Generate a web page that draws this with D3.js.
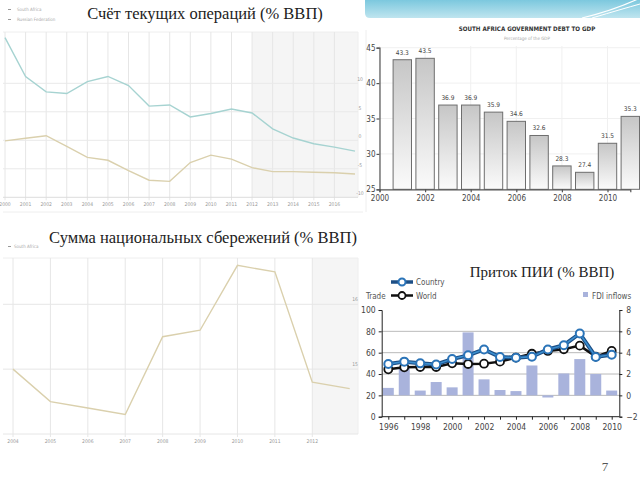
<!DOCTYPE html>
<html>
<head>
<meta charset="utf-8">
<script src="https://cdn.jsdelivr.net/npm/d3@7"></script>
<style>
  html, body { margin: 0; padding: 0; background: #fff; }
  svg { display: block; }
  .serif { font-family: "Liberation Serif", "DejaVu Serif", serif; }
  .narrow { font-family: "DejaVu Sans Condensed", "DejaVu Sans", sans-serif; font-stretch: condensed; }
</style>
</head>
<body>
<div id="slide"></div>
<script>
// ---- data ----
// current account balance (% GDP)
var caYears = [2000, 2001, 2002, 2003, 2004, 2005, 2006, 2007, 2008, 2009, 2010, 2011, 2012, 2013, 2014, 2015, 2016, 2017];
var caLabels = [2000, 2001, 2002, 2003, 2004, 2005, 2006, 2007, 2008, 2009, 2010, 2011, 2012, 2013, 2014, 2015, 2016];
var caRussia = [18.0, 11.2, 8.5, 8.2, 10.3, 11.2, 9.6, 6.0, 6.2, 4.1, 4.7, 5.5, 4.8, 2.0, 0.4, -0.6, -1.2, -1.9];
var caSouthAfrica = [-0.1, 0.35, 0.8, -1.05, -3.0, -3.5, -5.3, -7.0, -7.2, -3.9, -2.6, -3.3, -4.8, -5.5, -5.5, -5.6, -5.7, -5.9];
var caTicks = [-10, -5, 0, 5, 10];

// government debt to GDP
var debtYears = [2001, 2002, 2003, 2004, 2005, 2006, 2007, 2008, 2009, 2010, 2011];
var debtValues = [43.3, 43.5, 36.9, 36.9, 35.9, 34.6, 32.6, 28.3, 27.4, 31.5, 35.3];
var debtYTicks = [25, 30, 35, 40, 45];
var debtXTicks = [2000, 2002, 2004, 2006, 2008, 2010];

// gross national savings (% GDP)
var savYears = [2004, 2005, 2006, 2007, 2008, 2009, 2010, 2011, 2012, 2013];
var savLabels = [2004, 2005, 2006, 2007, 2008, 2009, 2010, 2011, 2012];
var savValues = [15.0, 14.5, 14.4, 14.3, 15.5, 15.6, 16.6, 16.5, 14.8, 14.7];
var savTicks = [15, 16];

// FDI inflows and trade
var fdiYears = [1996, 1997, 1998, 1999, 2000, 2001, 2002, 2003, 2004, 2005, 2006, 2007, 2008, 2009, 2010];
var fdiInflows = [0.7, 2.6, 0.45, 1.25, 0.75, 5.9, 1.5, 0.5, 0.4, 2.8, -0.2, 2.05, 3.4, 2.0, 0.45];
var tradeCountry = [49.4, 51.6, 50, 49, 54, 57.5, 63, 56, 55.3, 56.3, 63, 67, 78, 56, 58];
var tradeWorld = [44.4, 46.3, 46.6, 46.6, 50, 49.4, 49.7, 51.6, 55.4, 59, 61.6, 63.2, 66.6, 56.3, 61.6];
var tradeTicks = [0, 20, 40, 60, 80, 100];
var fdiTicks = [-2, 0, 2, 4, 6, 8];
var fdiXTicks = [1996, 1998, 2000, 2002, 2004, 2006, 2008, 2010];

var svg = d3.select("#slide").append("svg")
    .attr("width", 640)
    .attr("height", 480);

var defs = svg.append("defs");
var bannerGrad = defs.append("linearGradient").attr("id", "banner")
    .attr("x1", 0).attr("y1", 0).attr("x2", 0).attr("y2", 1);
bannerGrad.append("stop").attr("offset", "0%").attr("stop-color", "#7cc8de");
bannerGrad.append("stop").attr("offset", "100%").attr("stop-color", "#bfe5ef");
var barGrad = defs.append("linearGradient").attr("id", "bargrad")
    .attr("x1", 0).attr("y1", 0).attr("x2", 0).attr("y2", 1);
barGrad.append("stop").attr("offset", "0%").attr("stop-color", "#c6c6c6");
barGrad.append("stop").attr("offset", "100%").attr("stop-color", "#fbfbfb");

// decorative banner, top right
svg.append("path")
    .attr("d", "M365,0 H640 V18 H370 Q365,18 365,13 Z")
    .attr("fill", "url(#banner)");
svg.append("path").attr("d", "M582,18 Q615,10 640,-2").attr("fill", "none")
    .attr("stroke", "#fff").attr("stroke-width", 1.2);
svg.append("path").attr("d", "M592,18 Q622,9 640,4").attr("fill", "none")
    .attr("stroke", "#fff").attr("stroke-width", 1);

// ================= panel 1: current account =================
var p1 = svg.append("g");
var x1 = d3.scaleLinear().domain([2000, 2017]).range([5, 355]);
var y1 = d3.scaleLinear().domain([-10, 10]).range([197.3, 83.3]);
var top1 = 32, right1 = 358;

p1.append("rect")
    .attr("x", x1(2012)).attr("y", top1)
    .attr("width", right1 - x1(2012)).attr("height", y1(-10) - top1)
    .attr("fill", "#f5f5f5");
p1.append("line").attr("x1", 3).attr("x2", right1).attr("y1", top1).attr("y2", top1)
    .attr("stroke", "#eee");
p1.append("line").attr("x1", right1).attr("x2", right1).attr("y1", top1).attr("y2", y1(-10))
    .attr("stroke", "#eee");
p1.append("line").attr("x1", 3).attr("x2", 363).attr("y1", 212).attr("y2", 212)
    .attr("stroke", "#eee");

p1.selectAll(".vg").data(caLabels).enter().append("line")
    .attr("x1", function(d) { return x1(d); })
    .attr("x2", function(d) { return x1(d); })
    .attr("y1", top1).attr("y2", y1(-10) + 3)
    .attr("stroke", "#e6e6e6");
p1.selectAll(".hg").data(caTicks).enter().append("line")
    .attr("x1", 3).attr("x2", right1)
    .attr("y1", function(d) { return y1(d); })
    .attr("y2", function(d) { return y1(d); })
    .attr("stroke", function(d) { return d === -10 ? "#ddd" : "#e9e9e9"; });
p1.selectAll(".yl").data(caTicks).enter().append("text")
    .attr("class", "narrow")
    .attr("x", 360).attr("y", function(d) { return y1(d) - 2; })
    .attr("text-anchor", "middle")
    .style("font-size", "5px").style("fill", "#999")
    .text(function(d) { return d; });
p1.selectAll(".xl").data(caLabels).enter().append("text")
    .attr("class", "narrow")
    .attr("x", function(d) { return x1(d); }).attr("y", 206)
    .attr("text-anchor", "middle")
    .style("font-size", "5px").style("fill", "#999")
    .text(function(d) { return d; });

var line1 = function(vals) {
    return d3.line()
        .x(function(d, i) { return x1(caYears[i]); })
        .y(function(d) { return y1(d); })(vals);
};
p1.append("path").attr("d", line1(caRussia))
    .attr("fill", "none").attr("stroke", "#a6d3d1").attr("stroke-width", 1.4);
p1.append("path").attr("d", line1(caSouthAfrica))
    .attr("fill", "none").attr("stroke", "#dad0ad").attr("stroke-width", 1.4);

// legend
[["South Africa", 11], ["Russian Federation", 21]].forEach(function(l) {
    p1.append("line").attr("x1", 8).attr("x2", 11).attr("y1", l[1] - 1.5).attr("y2", l[1] - 1.5)
        .attr("stroke", "#999").attr("stroke-width", 1);
    p1.append("text").attr("class", "narrow")
        .attr("x", 17).attr("y", l[1])
        .style("font-size", "4.5px").style("fill", "#aaa")
        .text(l[0]);
});

p1.append("text").attr("class", "serif")
    .attr("x", 205).attr("y", 18.5)
    .attr("text-anchor", "middle")
    .style("font-size", "16.5px").style("fill", "#222")
    .text("Счёт текущих операций (% ВВП)");

// ================= panel 2: government debt =================
var p2 = svg.append("g");
var x2 = d3.scaleLinear().domain([2000, 2011]).range([379.5, 630.3]);
var y2 = d3.scaleLinear().domain([25, 45]).range([189.3, 47.7]);

p2.append("line").attr("x1", 366).attr("x2", 366).attr("y1", 30).attr("y2", 212)
    .attr("stroke", "#eee");
p2.selectAll(".vg").data(debtXTicks.concat([2012])).enter().append("line")
    .attr("x1", function(d) { return x2(d); })
    .attr("x2", function(d) { return x2(d); })
    .attr("y1", 46).attr("y2", y2(25))
    .attr("stroke", "#f0f0f0");
p2.selectAll(".hg").data(debtYTicks).enter().append("line")
    .attr("x1", x2(2000)).attr("x2", 640)
    .attr("y1", function(d) { return y2(d); })
    .attr("y2", function(d) { return y2(d); })
    .attr("stroke", "#f0f0f0");

p2.selectAll(".bar").data(debtValues).enter().append("rect")
    .attr("x", function(d, i) { return x2(debtYears[i]) - 9.2; })
    .attr("y", function(d) { return y2(d); })
    .attr("width", 18.4)
    .attr("height", function(d) { return y2(25) - y2(d); })
    .attr("fill", "url(#bargrad)")
    .attr("stroke", "#6e6e6e").attr("stroke-width", 1);
p2.selectAll(".vl").data(debtValues).enter().append("text")
    .attr("class", "narrow")
    .attr("x", function(d, i) { return x2(debtYears[i]); })
    .attr("y", function(d) { return y2(d) - 5; })
    .attr("text-anchor", "middle")
    .style("font-size", "6.5px").style("fill", "#444")
    .text(function(d) { return d; });

var ax2 = p2.append("g")
    .attr("transform", "translate(" + x2(2000) + ",0)")
    .call(d3.axisLeft(y2).tickValues(debtYTicks).tickSize(3).tickPadding(1));
ax2.selectAll("text").attr("class", "narrow").style("font-size", "8px").style("fill", "#444");
ax2.selectAll("line, path").attr("stroke", "#555").attr("stroke-width", 1.2);
var bx2 = p2.append("g")
    .attr("transform", "translate(0," + y2(25) + ")")
    .call(d3.axisBottom(x2).tickValues(debtXTicks).tickFormat(d3.format("d")).tickSize(3).tickPadding(3));
bx2.selectAll("text").attr("class", "narrow").style("font-size", "8px").style("fill", "#444");
bx2.selectAll("line, path").attr("stroke", "#555").attr("stroke-width", 1.2);

p2.append("text").attr("class", "narrow")
    .attr("x", 527).attr("y", 31)
    .attr("text-anchor", "middle")
    .style("font-size", "6.2px").style("fill", "#333").style("font-weight", "bold")
    .text("SOUTH AFRICA GOVERNMENT DEBT TO GDP");
p2.append("text").attr("class", "narrow")
    .attr("x", 527).attr("y", 40)
    .attr("text-anchor", "middle")
    .style("font-size", "4.5px").style("fill", "#aaa")
    .text("Percentage of the GDP");

// ================= panel 3: national savings =================
var p3 = svg.append("g");
var x3 = d3.scaleLinear().domain([2004, 2013]).range([13, 349.7]);
var y3 = d3.scaleLinear().domain([14, 16]).range([434, 304.3]);
var top3 = 258, right3 = 358;

p3.append("rect")
    .attr("x", x3(2012)).attr("y", top3)
    .attr("width", right3 - x3(2012)).attr("height", y3(14) - top3)
    .attr("fill", "#f5f5f5");
p3.append("line").attr("x1", 3).attr("x2", right3).attr("y1", top3).attr("y2", top3)
    .attr("stroke", "#eee");
p3.append("line").attr("x1", right3).attr("x2", right3).attr("y1", top3).attr("y2", y3(14))
    .attr("stroke", "#eee");
p3.selectAll(".vg").data(savLabels).enter().append("line")
    .attr("x1", function(d) { return x3(d); })
    .attr("x2", function(d) { return x3(d); })
    .attr("y1", top3).attr("y2", y3(14) + 3)
    .attr("stroke", "#e6e6e6");
p3.selectAll(".hg").data([14].concat(savTicks)).enter().append("line")
    .attr("x1", 3).attr("x2", right3)
    .attr("y1", function(d) { return y3(d); })
    .attr("y2", function(d) { return y3(d); })
    .attr("stroke", "#e6e6e6");
p3.selectAll(".yl").data(savTicks).enter().append("text")
    .attr("class", "narrow")
    .attr("x", 355).attr("y", function(d) { return y3(d) - 3; })
    .attr("text-anchor", "middle")
    .style("font-size", "5px").style("fill", "#999")
    .text(function(d) { return d; });
p3.selectAll(".xl").data(savLabels).enter().append("text")
    .attr("class", "narrow")
    .attr("x", function(d) { return x3(d); }).attr("y", 443)
    .attr("text-anchor", "middle")
    .style("font-size", "5px").style("fill", "#999")
    .text(function(d) { return d; });

p3.append("path")
    .datum(savValues)
    .attr("fill", "none").attr("stroke", "#dad0ad").attr("stroke-width", 1.4)
    .attr("d", d3.line()
        .x(function(d, i) { return x3(savYears[i]); })
        .y(function(d) { return y3(d); }));

p3.append("line").attr("x1", 8).attr("x2", 11).attr("y1", 246.5).attr("y2", 246.5)
    .attr("stroke", "#999");
p3.append("text").attr("class", "narrow")
    .attr("x", 14).attr("y", 248)
    .style("font-size", "4.5px").style("fill", "#aaa")
    .text("South Africa");

p3.append("text").attr("class", "serif")
    .attr("x", 203).attr("y", 243)
    .attr("text-anchor", "middle")
    .style("font-size", "16.5px").style("fill", "#222")
    .text("Сумма национальных сбережений (% ВВП)");

// ================= panel 4: FDI inflows =================
var p4 = svg.append("g");
var x4 = d3.scaleLinear().domain([1996, 2010]).range([388.3, 611.7]);
var yL = d3.scaleLinear().domain([0, 100]).range([416.7, 310]);
var yR = d3.scaleLinear().domain([-2, 8]).range([416.7, 310]);
var left4 = 381.7, right4 = 619.3;

p4.selectAll(".hg").data([20, 40, 60, 80]).enter().append("line")
    .attr("x1", left4).attr("x2", right4)
    .attr("y1", function(d) { return yL(d); })
    .attr("y2", function(d) { return yL(d); })
    .attr("stroke", "#a8a8a8").attr("stroke-width", 0.8);

p4.selectAll(".bar").data(fdiInflows).enter().append("rect")
    .attr("x", function(d, i) { return x4(fdiYears[i]) - 5.5; })
    .attr("y", function(d) { return d >= 0 ? yR(d) : yR(0); })
    .attr("width", 11)
    .attr("height", function(d) { return Math.abs(yR(d) - yR(0)); })
    .attr("fill", "#a9b3dc");

var aL = p4.append("g").attr("transform", "translate(" + left4 + ",0)")
    .call(d3.axisLeft(yL).tickValues(tradeTicks).tickSize(3).tickPadding(3));
var aR = p4.append("g").attr("transform", "translate(" + right4 + ",0)")
    .call(d3.axisRight(yR).tickValues(fdiTicks).tickSize(3).tickPadding(4));
var aB = p4.append("g").attr("transform", "translate(0," + yL(0) + ")")
    .call(d3.axisBottom(x4).ticks(14).tickFormat(function(d) {
        return fdiXTicks.indexOf(d) >= 0 ? d : "";
    }).tickSize(3).tickPadding(4));
aB.select(".domain").attr("d", "M" + left4 + ",0H" + right4);
[aL, aR, aB].forEach(function(a) {
    a.selectAll("text").attr("class", "narrow").style("font-size", "8.5px").style("fill", "#444");
    a.selectAll("line, path").attr("stroke", "#222").attr("stroke-width", 1);
});

var line4 = d3.line()
    .x(function(d, i) { return x4(fdiYears[i]); })
    .y(function(d) { return yL(d); });
p4.append("path").attr("d", line4(tradeWorld))
    .attr("fill", "none").attr("stroke", "#111").attr("stroke-width", 2.5);
p4.selectAll(".wd").data(tradeWorld).enter().append("circle")
    .attr("cx", function(d, i) { return x4(fdiYears[i]); })
    .attr("cy", function(d) { return yL(d); })
    .attr("r", 4)
    .attr("fill", "#fff").attr("stroke", "#111").attr("stroke-width", 1.8);
p4.append("path").attr("d", line4(tradeCountry))
    .attr("fill", "none").attr("stroke", "#1d4f86").attr("stroke-width", 4);
p4.append("path").attr("d", line4(tradeCountry))
    .attr("fill", "none").attr("stroke", "#3b8fd0").attr("stroke-width", 1.6);
p4.selectAll(".cd").data(tradeCountry).enter().append("circle")
    .attr("cx", function(d, i) { return x4(fdiYears[i]); })
    .attr("cy", function(d) { return yL(d); })
    .attr("r", 4)
    .attr("fill", "#fff").attr("stroke", "#2b74b8").attr("stroke-width", 2);

// legend
p4.append("line").attr("x1", 391).attr("x2", 413).attr("y1", 282).attr("y2", 282)
    .attr("stroke", "#1d4f86").attr("stroke-width", 3.5);
p4.append("circle").attr("cx", 402).attr("cy", 282).attr("r", 3.5)
    .attr("fill", "#fff").attr("stroke", "#2b74b8").attr("stroke-width", 2);
p4.append("line").attr("x1", 391).attr("x2", 413).attr("y1", 295.5).attr("y2", 295.5)
    .attr("stroke", "#111").attr("stroke-width", 2.5);
p4.append("circle").attr("cx", 402).attr("cy", 295.5).attr("r", 3.5)
    .attr("fill", "#fff").attr("stroke", "#111").attr("stroke-width", 1.8);
p4.append("text").attr("class", "narrow").attr("x", 416).attr("y", 285)
    .style("font-size", "8px").style("fill", "#555").text("Country");
p4.append("text").attr("class", "narrow").attr("x", 416).attr("y", 298.5)
    .style("font-size", "8px").style("fill", "#555").text("World");
p4.append("text").attr("class", "narrow").attr("x", 366).attr("y", 299)
    .style("font-size", "8px").style("fill", "#555").text("Trade");
p4.append("rect").attr("x", 583).attr("y", 292).attr("width", 5).attr("height", 5)
    .attr("fill", "#a9b3dc");
p4.append("text").attr("class", "narrow").attr("x", 592).attr("y", 298.5)
    .style("font-size", "8px").style("fill", "#555").text("FDI inflows");

p4.append("text").attr("class", "serif")
    .attr("x", 542).attr("y", 277)
    .attr("text-anchor", "middle")
    .style("font-size", "15px").style("fill", "#222")
    .text("Приток ПИИ (% ВВП)");

// slide number
svg.append("text").attr("class", "serif")
    .attr("x", 605).attr("y", 471)
    .attr("text-anchor", "middle")
    .style("font-size", "13px").style("fill", "#555")
    .text("7");
</script>
</body>
</html>
